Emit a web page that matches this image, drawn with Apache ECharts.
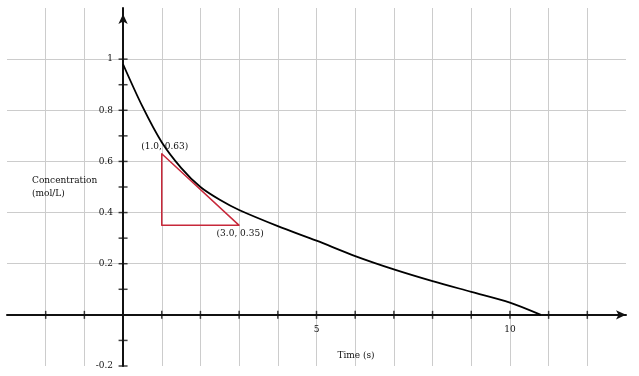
<!DOCTYPE html>
<html>
<head>
<meta charset="utf-8">
<script src="https://cdn.jsdelivr.net/npm/echarts@6/dist/echarts.min.js"></script>
<style>
	html, body { margin: 0; padding: 0; background: #fff; }
	#chart { width: 639px; height: 376px; }
</style>
</head>
<body>
<div id="chart"></div>
<script>
	// concentration curve
	var curveX = [0, 0.5, 1, 1.5, 2, 2.5, 3, 4, 5, 6, 7, 8, 9, 10, 10.8];
	var curveY = [0.98, 0.815, 0.675, 0.575, 0.50, 0.45, 0.41, 0.347, 0.29, 0.23, 0.178, 0.132, 0.09, 0.048, 0];

	// red slope triangle
	var triX = [1, 1, 3, 1];
	var triY = [0.63, 0.35, 0.35, 0.63];
	var triLabels = ["(1.0, 0.63)", "", "(3.0, 0.35)", ""];

	// tick marks crossing the axes
	var xTicks = [-2, -1, 1, 2, 3, 4, 5, 6, 7, 8, 9, 10, 11, 12];
	var yTicks = [-0.2, -0.1, 0.1, 0.2, 0.3, 0.4, 0.5, 0.6, 0.7, 0.8, 0.9, 1.0];
	var xLabelsShown = [5, 10];

	var font = "DejaVu Serif";
	var red = "#c7283a";
	var ink = "#111";

	var curve = [];
	for (var i = 0; i < curveX.length; i++) {
		curve.push([curveX[i], curveY[i]]);
	}

	var tri = [];
	for (var i = 0; i < triX.length; i++) {
		tri.push({
			value: [triX[i], triY[i]],
			label: {
				show: triLabels[i] !== "",
				formatter: triLabels[i],
				position: i === 0 ? "top" : "bottom",
				offset: i === 0 ? [3, 1] : [1, 0],
				distance: 3,
				color: ink,
				fontFamily: font,
				fontSize: 9
			}
		});
	}

	var myChart = echarts.init(document.getElementById("chart"));
	var option = {
		animation: false,
		grid: {
			left: 7,
			right: 13,
			top: 8,
			bottom: 10,
			outerBoundsMode: "none"
		},
		xAxis: {
			type: "value",
			min: -3,
			max: 13,
			interval: 1,
			name: "Time (s)",
			nameLocation: "middle",
			nameGap: -15,
			nameMoveOverlap: false,
			nameTextStyle: {
				color: ink,
				fontFamily: font,
				fontSize: 9,
				padding: [0, 0, 0, 79]
			},
			axisLine: {
				onZero: true,
				symbol: ["none", "arrow"],
				symbolSize: [7, 10],
				lineStyle: {
					color: ink,
					width: 2
				}
			},
			axisTick: {
				show: false
			},
			// v6 keeps labels at the grid edge, so pull them back to the zero line
			axisLabel: {
				margin: -41,
				color: ink,
				fontFamily: font,
				fontSize: 9,
				formatter: function(v) {
					return xLabelsShown.indexOf(v) > -1 ? String(v) : "";
				}
			},
			splitLine: {
				show: true,
				showMinLine: false,
				showMaxLine: false,
				lineStyle: {
					color: "#cccccc",
					width: 1
				}
			}
		},
		yAxis: {
			type: "value",
			min: -0.2,
			max: 1.2,
			interval: 0.2,
			name: "Concentration\n(mol/L)",
			nameLocation: "middle",
			nameRotate: 0,
			nameGap: -25,
			nameMoveOverlap: false,
			nameTextStyle: {
				align: "left",
				color: ink,
				fontFamily: font,
				fontSize: 9,
				lineHeight: 13
			},
			axisLine: {
				onZero: true,
				symbol: ["none", "arrow"],
				symbolSize: [7, 10],
				symbolOffset: [0, -6],
				lineStyle: {
					color: ink,
					width: 2
				}
			},
			axisTick: {
				show: false
			},
			axisLabel: {
				margin: -106,
				color: ink,
				fontFamily: font,
				fontSize: 9,
				formatter: function(v) {
					if (Math.abs(v) < 1e-9 || v > 1.1) return "";
					return String(Math.round(v * 10) / 10);
				}
			},
			splitLine: {
				show: true,
				showMinLine: false,
				showMaxLine: false,
				lineStyle: {
					color: "#cccccc",
					width: 1
				}
			}
		},
		series: [{
			type: "line",
			data: curve,
			smooth: 0.3,
			symbol: "none",
			z: 4,
			lineStyle: {
				color: "#000",
				width: 1.8
			}
		}, {
			type: "line",
			data: tri,
			symbol: "circle",
			symbolSize: 1,
			showSymbol: true,
			z: 5,
			itemStyle: {
				color: red
			},
			lineStyle: {
				color: red,
				width: 1.5
			}
		}, {
			type: "scatter",
			data: xTicks.map(function(x) { return [x, 0]; }),
			symbol: "rect",
			symbolSize: [1.5, 8],
			silent: true,
			z: 6,
			itemStyle: {
				color: ink
			}
		}, {
			type: "scatter",
			data: yTicks.map(function(y) { return [0, y]; }),
			symbol: "rect",
			symbolSize: [9, 1.5],
			silent: true,
			z: 6,
			itemStyle: {
				color: ink
			}
		}]
	};
	myChart.setOption(option);
</script>
</body>
</html>
